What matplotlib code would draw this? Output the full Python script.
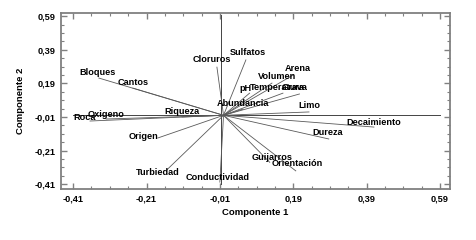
import numpy as np
import matplotlib.pyplot as plt
from matplotlib.ticker import FixedLocator

plt.rcParams['font.family'] = ['Liberation Sans', 'DejaVu Sans']
plt.rcParams['font.weight'] = 'bold'

# variables del biplot (cargas en componente 1 y 2)
variables = ['Bloques', 'Cantos', 'Cloruros', 'Sulfatos', 'Arena', 'Volumen', 'pH',
             'Temperatura', 'Grava', 'Abundancia', 'Limo', 'Riqueza', 'Oxigeno', 'Roca',
             'Origen', 'Turbiedad', 'Conductividad', 'Guijarros', 'Orientación',
             'Dureza', 'Decaimiento']
comp1 = [-0.340, -0.247, -0.018, 0.061, 0.190, 0.132, 0.071,
         0.162, 0.207, 0.053, 0.233, -0.113, -0.320, -0.364,
         -0.179, -0.157, -0.010, 0.126, 0.197,
         0.287, 0.410]
comp2 = [0.222, 0.162, 0.287, 0.330, 0.240, 0.192, 0.132,
         0.132, 0.127, 0.037, 0.020, -0.010, -0.022, -0.034,
         -0.135, -0.330, -0.398, -0.280, -0.331,
         -0.141, -0.070]

# desplazamiento de etiquetas (pixeles)
offsets = [(-1, 6), (0, 6), (-5, 8), (2, 7), (5, 7), (5, 7), (-4, 5),
           (-6, 6), (-5, 6), (0, 6), (0, 6), (0, 5), (0, 5), (-5, 4),
           (-14, 1), (-8, -2), (-2, 5), (2, 5), (1, 7),
           (-1, 6), (0, 5)]

ticks = [-0.41, -0.21, -0.01, 0.19, 0.39, 0.59]

fig = plt.figure(figsize=(4.77, 2.40), dpi=100)
ax = fig.add_axes([0.128, 0.2125, 0.815, 0.733])

# lineas de referencia
ax.plot([-0.41, 0.59], [0, 0], color='#444444', lw=0.7)
ax.plot([-0.007, -0.007], [-0.41, 0.60], color='#444444', lw=0.7)

for name, x, y, off in zip(variables, comp1, comp2, offsets):
    ax.plot([0, x], [0, y], color='#5a5a5a', lw=0.6)
    ax.annotate(name, (x, y), xytext=off, textcoords='offset pixels',
                ha='center', va='center', fontsize=6.6, fontweight='bold')

ax.set_xlim(-0.443, 0.617)
ax.set_ylim(-0.439, 0.609)
ax.xaxis.set_major_locator(FixedLocator(ticks))
ax.yaxis.set_major_locator(FixedLocator(ticks))
ax.xaxis.set_minor_locator(FixedLocator(np.arange(-0.46, 0.62, 0.05)))
ax.yaxis.set_minor_locator(FixedLocator(np.arange(-0.46, 0.62, 0.05)))
ax.set_xticklabels([f'{t:.2f}'.replace('.', ',') for t in ticks])
ax.set_yticklabels([f'{t:.2f}'.replace('.', ',') for t in ticks])
ax.tick_params(which='both', direction='in', top=True, right=True,
               color='#808080', labelsize=6.6, pad=4)
ax.tick_params(which='major', length=4, width=1)
ax.tick_params(which='minor', length=2.5, width=0.8)
for s in ax.spines.values():
    s.set_color('#808080')
    s.set_linewidth(1.3)

ax.set_xlabel('Componente 1', fontsize=6.8, fontweight='bold', labelpad=3)
ax.set_ylabel('Componente 2', fontsize=6.8, fontweight='bold', labelpad=7)

fig.savefig('out.png', dpi=100)
